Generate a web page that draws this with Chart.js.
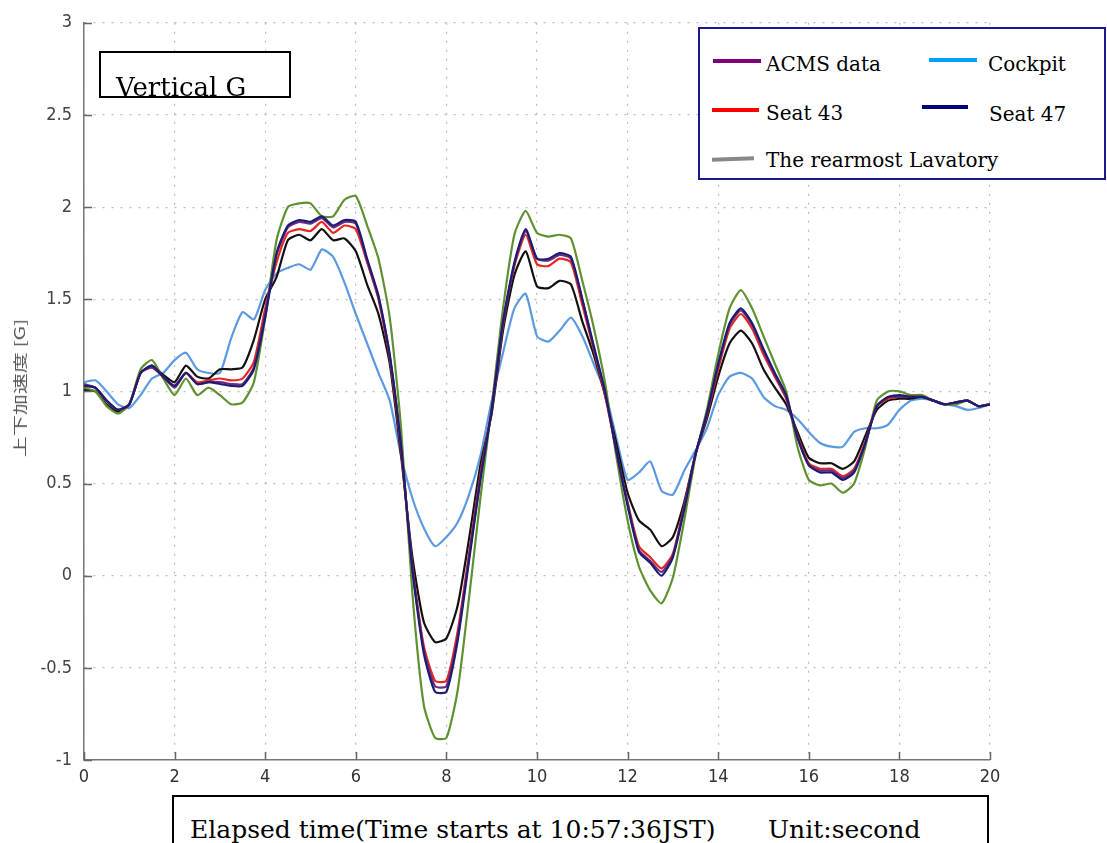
<!DOCTYPE html>
<html>
<head>
<meta charset="utf-8">
<script src="https://cdn.jsdelivr.net/npm/chart.js@4.4.1/dist/chart.umd.min.js"></script>
<style>
  body { margin: 0; background: #fff; }
  #wrap { position: relative; width: 1107px; height: 843px; overflow: hidden; }
  #myChart { position: absolute; left: 0; top: 0; }
  .box { position: absolute; box-sizing: border-box; background: #fff; }
  .serif { position: absolute; font-family: "DejaVu Serif", "Liberation Serif", serif; color: #000; line-height: 1; white-space: nowrap; }
  .key { position: absolute; height: 4px; }
  #ytitle { position: absolute; left: 19px; top: 388px; font-family: "Noto Sans CJK JP", sans-serif; font-size: 14px; color: #555; white-space: nowrap; transform: translate(-50%, -50%) rotate(-90deg) scaleX(1.5); }
</style>
</head>
<body>
<div id="wrap">
  <canvas id="myChart" width="1107" height="843"></canvas>

  <div id="ytitle">上下加速度 [G]</div>

  <div class="box" style="left:99px; top:51px; width:192px; height:47px; border:2px solid #000;"></div>
  <div class="serif" style="left:116px; top:74px; font-size:26px;">Vertical G</div>

  <div class="box" style="left:698px; top:27px; width:408px; height:153px; border:2px solid #1a1a90;"></div>
  <div class="key" style="left:713px; top:59px; width:48px; background:#800080;"></div>
  <div class="serif" style="left:766px; top:54px; font-size:20px;">ACMS data</div>
  <div class="key" style="left:929px; top:58px; width:48px; background:#00a2ff;"></div>
  <div class="serif" style="left:988px; top:54px; font-size:20px;">Cockpit</div>
  <div class="key" style="left:712px; top:108px; width:47px; background:#ff0000;"></div>
  <div class="serif" style="left:766px; top:103px; font-size:20px;">Seat 43</div>
  <div class="key" style="left:922px; top:105px; width:46px; background:#000080;"></div>
  <div class="serif" style="left:989px; top:104px; font-size:20px;">Seat 47</div>
  <div class="key" style="left:712px; top:157px; width:42px; background:#888; transform:rotate(-2deg);"></div>
  <div class="serif" style="left:766px; top:150px; font-size:20px;">The rearmost Lavatory</div>

  <div class="box" style="left:172px; top:795px; width:817px; height:70px; border:2px solid #000;"></div>
  <div class="serif" style="left:190px; top:817px; font-size:25px;">Elapsed time(Time starts at 10:57:36JST)</div>
  <div class="serif" style="left:768px; top:817px; font-size:25px;">Unit:second</div>
</div>

<script>
const times = [
  0, 0.25, 0.5, 0.75, 1, 1.25, 1.5, 1.75, 2, 2.25, 2.5, 2.75, 3, 3.25, 3.5, 3.75,
  4, 4.25, 4.5, 4.75, 5, 5.25, 5.5, 5.75, 6, 6.25, 6.5, 6.75, 7, 7.25, 7.5, 7.75,
  8, 8.25, 8.5, 8.75, 9, 9.25, 9.5, 9.75, 10, 10.25, 10.5, 10.75, 11, 11.25, 11.5, 11.75,
  12, 12.25, 12.5, 12.75, 13, 13.25, 13.5, 13.75, 14, 14.25, 14.5, 14.75, 15, 15.25, 15.5, 15.75,
  16, 16.25, 16.5, 16.75, 17, 17.25, 17.5, 17.75, 18, 18.25, 18.5, 18.75, 19, 19.25, 19.5, 19.75, 20
];

const green = [
  1.02, 1.00, 0.92, 0.88, 0.93, 1.12, 1.17, 1.07, 0.98, 1.07, 0.98, 1.02, 0.98, 0.93, 0.94, 1.05,
  1.40, 1.82, 2.00, 2.02, 2.02, 1.95, 1.95, 2.04, 2.06, 1.90, 1.72, 1.40, 0.80, -0.10, -0.70, -0.88,
  -0.88, -0.62, -0.12, 0.42, 0.92, 1.45, 1.85, 1.98, 1.86, 1.84, 1.85, 1.83, 1.60, 1.35, 1.05, 0.65,
  0.30, 0.05, -0.08, -0.15, -0.01, 0.30, 0.65, 0.90, 1.20, 1.45, 1.55, 1.45, 1.30, 1.15, 1.00, 0.70,
  0.52, 0.49, 0.50, 0.45, 0.50, 0.70, 0.95, 1.00, 1.00, 0.98, 0.98, 0.95, 0.93, 0.93, 0.95, 0.92, 0.93
];

const seat47 = [
  1.03, 1.02, 0.95, 0.90, 0.93, 1.10, 1.14, 1.08, 1.03, 1.10, 1.04, 1.05, 1.04, 1.03, 1.03, 1.12,
  1.40, 1.75, 1.90, 1.93, 1.92, 1.95, 1.90, 1.93, 1.92, 1.72, 1.52, 1.20, 0.70, 0.03, -0.42, -0.63,
  -0.63, -0.35, 0.08, 0.52, 0.90, 1.38, 1.70, 1.88, 1.72, 1.72, 1.75, 1.73, 1.50, 1.25, 1.00, 0.68,
  0.38, 0.13, 0.07, 0.00, 0.10, 0.36, 0.66, 0.88, 1.15, 1.37, 1.45, 1.37, 1.23, 1.10, 0.98, 0.75,
  0.60, 0.56, 0.56, 0.52, 0.56, 0.72, 0.92, 0.97, 0.98, 0.97, 0.97, 0.95, 0.93, 0.94, 0.95, 0.92, 0.93
];

const acms = [
  1.04, 1.02, 0.95, 0.90, 0.93, 1.10, 1.13, 1.08, 1.02, 1.10, 1.04, 1.05, 1.05, 1.04, 1.04, 1.13,
  1.42, 1.74, 1.89, 1.92, 1.91, 1.94, 1.89, 1.92, 1.91, 1.71, 1.51, 1.19, 0.70, 0.04, -0.40, -0.60,
  -0.60, -0.33, 0.10, 0.53, 0.90, 1.37, 1.69, 1.87, 1.72, 1.71, 1.74, 1.72, 1.50, 1.24, 1.00, 0.68,
  0.39, 0.14, 0.08, 0.02, 0.11, 0.37, 0.66, 0.88, 1.14, 1.36, 1.44, 1.36, 1.22, 1.09, 0.97, 0.75,
  0.60, 0.57, 0.57, 0.53, 0.57, 0.72, 0.92, 0.97, 0.97, 0.97, 0.97, 0.95, 0.93, 0.94, 0.95, 0.92, 0.93
];

const seat43 = [
  1.03, 1.02, 0.95, 0.90, 0.93, 1.10, 1.13, 1.08, 1.03, 1.10, 1.05, 1.06, 1.07, 1.06, 1.07, 1.16,
  1.45, 1.70, 1.86, 1.88, 1.87, 1.92, 1.86, 1.90, 1.88, 1.70, 1.50, 1.18, 0.68, 0.05, -0.38, -0.57,
  -0.57, -0.30, 0.12, 0.55, 0.90, 1.36, 1.68, 1.85, 1.69, 1.68, 1.72, 1.70, 1.47, 1.23, 0.98, 0.68,
  0.40, 0.16, 0.10, 0.04, 0.12, 0.38, 0.66, 0.87, 1.12, 1.34, 1.42, 1.34, 1.20, 1.08, 0.96, 0.76,
  0.61, 0.58, 0.58, 0.54, 0.58, 0.73, 0.92, 0.96, 0.97, 0.97, 0.97, 0.95, 0.93, 0.94, 0.95, 0.92, 0.93
];

const black = [
  1.01, 1.00, 0.93, 0.89, 0.93, 1.10, 1.14, 1.09, 1.05, 1.14, 1.08, 1.07, 1.12, 1.12, 1.13, 1.28,
  1.50, 1.62, 1.82, 1.85, 1.82, 1.88, 1.82, 1.83, 1.76, 1.58, 1.42, 1.15, 0.65, 0.10, -0.25, -0.36,
  -0.34, -0.16, 0.20, 0.60, 0.88, 1.33, 1.63, 1.76, 1.57, 1.56, 1.60, 1.58, 1.38, 1.20, 0.98, 0.72,
  0.45, 0.30, 0.25, 0.16, 0.21, 0.40, 0.66, 0.85, 1.08, 1.26, 1.33, 1.26, 1.12, 1.02, 0.93, 0.78,
  0.64, 0.61, 0.61, 0.58, 0.62, 0.76, 0.90, 0.95, 0.96, 0.96, 0.97, 0.95, 0.93, 0.94, 0.95, 0.92, 0.93
];

const cockpit = [
  1.05, 1.06, 1.00, 0.93, 0.91, 0.98, 1.07, 1.10, 1.17, 1.21, 1.12, 1.10, 1.10, 1.29, 1.43, 1.39,
  1.55, 1.64, 1.67, 1.69, 1.66, 1.77, 1.73, 1.59, 1.42, 1.26, 1.10, 0.95, 0.65, 0.42, 0.26, 0.16,
  0.21, 0.29, 0.44, 0.65, 0.95, 1.21, 1.45, 1.53, 1.30, 1.27, 1.33, 1.40, 1.30, 1.15, 1.00, 0.75,
  0.52, 0.56, 0.62, 0.46, 0.44, 0.57, 0.68, 0.80, 0.98, 1.08, 1.10, 1.07, 0.97, 0.92, 0.90, 0.85,
  0.78, 0.72, 0.70, 0.70, 0.78, 0.80, 0.80, 0.82, 0.90, 0.95, 0.96, 0.95, 0.93, 0.92, 0.90, 0.91, 0.93
];

const xTicks = [0, 2, 4, 6, 8, 10, 12, 14, 16, 18, 20];
const yTicks = [-1, -0.5, 0, 0.5, 1, 1.5, 2, 2.5, 3];

function pts(values) {
  return values.map((v, i) => ({ x: times[i], y: v }));
}

function series(label, values, color) {
  return {
    label: label,
    data: pts(values),
    borderColor: color,
    borderWidth: 2.2,
    pointRadius: 0,
    fill: false,
    tension: 0.2,
  };
}

// small inward tick marks like the original axes
const innerTicks = {
  id: "innerTicks",
  afterDraw(chart) {
    const ctx = chart.ctx;
    const xs = chart.scales.x;
    const ys = chart.scales.y;
    const area = chart.chartArea;
    ctx.save();
    ctx.strokeStyle = "#666";
    ctx.lineWidth = 1.5;
    ctx.beginPath();
    xTicks.forEach((t) => {
      const px = Math.round(xs.getPixelForValue(t)) + 0.5;
      ctx.moveTo(px, area.bottom);
      ctx.lineTo(px, area.bottom - 8);
    });
    yTicks.forEach((t) => {
      const py = Math.round(ys.getPixelForValue(t)) + 0.5;
      ctx.moveTo(area.left, py);
      ctx.lineTo(area.left + 8, py);
    });
    ctx.stroke();
    ctx.restore();
  },
};

const tickFont = { family: "'Liberation Sans Narrow', 'DejaVu Sans Condensed', 'Liberation Sans', Arial, sans-serif", size: 18 };

const config = {
  type: "line",
  data: {
    datasets: [
      series("Seat 47", seat47, "#1c1c72"),
      series("ACMS data", acms, "#6e2a80"),
      series("Seat 43", seat43, "#e8261e"),
      series("Lavatory", green, "#5f9130"),
      series("Black", black, "#111111"),
      series("Cockpit", cockpit, "#5b9ae0"),
    ],
  },
  options: {
    responsive: false,
    animation: false,
    layout: { padding: { left: 0, right: 117, top: 18, bottom: 0 } },
    plugins: { legend: { display: false }, tooltip: { enabled: false } },
    scales: {
      x: {
        type: "linear",
        min: 0,
        max: 20,
        afterBuildTicks(scale) {
          scale.ticks = xTicks.map((v) => ({ value: v }));
        },
        afterFit(scale) {
          scale.height = 83;
        },
        ticks: { color: "#333", font: tickFont, padding: 7, maxRotation: 0, callback: (v) => String(v) },
        grid: { color: "#bbbbbb", lineWidth: 1.2, drawTicks: false },
        border: { display: true, color: "#777", width: 1.5, dash: [2, 7] },
      },
      y: {
        min: -1,
        max: 3,
        afterBuildTicks(scale) {
          scale.ticks = yTicks.map((v) => ({ value: v }));
        },
        afterFit(scale) {
          scale.width = 84;
        },
        ticks: { color: "#444", font: tickFont, padding: 12, callback: (v) => String(v) },
        grid: { color: "#bbbbbb", lineWidth: 1.2, drawTicks: false },
        border: { display: true, color: "#777", width: 1.5, dash: [2, 7] },
      },
    },
  },
  plugins: [innerTicks],
};

const lineChart = new Chart(document.querySelector("#myChart"), config);
</script>
</body>
</html>
